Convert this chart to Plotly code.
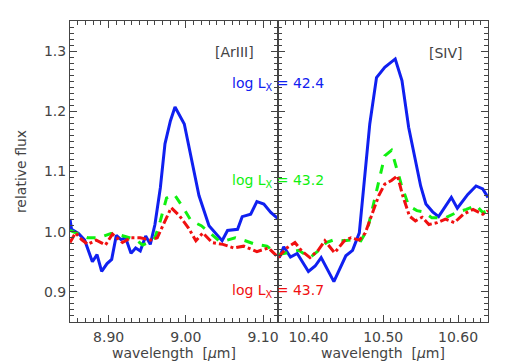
import plotly.graph_objects as go

# ---- data: [ArIII] panel ----
ar_blue_x = [8.850, 8.852, 8.861, 8.869, 8.879, 8.885, 8.891, 8.898, 8.904, 8.910, 8.916, 8.922, 8.929, 8.935, 8.941, 8.948, 8.954, 8.960, 8.967, 8.973, 8.980, 8.986, 8.998, 9.007, 9.017, 9.030, 9.039, 9.047, 9.054, 9.067, 9.073, 9.084, 9.092, 9.101, 9.110, 9.120]
ar_blue_y = [1.021, 1.004, 0.997, 0.986, 0.950, 0.962, 0.934, 0.947, 0.954, 0.994, 0.987, 0.990, 0.964, 0.973, 0.968, 0.993, 0.979, 1.012, 1.073, 1.146, 1.184, 1.207, 1.179, 1.123, 1.060, 1.010, 0.996, 0.985, 1.002, 1.004, 1.025, 1.029, 1.050, 1.046, 1.032, 1.021]

ar_green_x = [8.850, 8.861, 8.873, 8.888, 8.903, 8.916, 8.935, 8.944, 8.954, 8.960, 8.967, 8.975, 8.985, 8.995, 9.007, 9.020, 9.033, 9.043, 9.051, 9.064, 9.077, 9.090, 9.105, 9.120]
ar_green_y = [1.002, 0.996, 0.990, 0.990, 0.997, 0.994, 0.987, 0.978, 0.983, 0.990, 1.018, 1.056, 1.062, 1.043, 1.018, 1.010, 0.996, 0.985, 0.985, 0.990, 0.985, 0.979, 0.976, 0.962]

ar_red_x = [8.850, 8.857, 8.865, 8.873, 8.884, 8.896, 8.905, 8.918, 8.929, 8.941, 8.954, 8.963, 8.971, 8.981, 8.992, 9.003, 9.013, 9.022, 9.034, 9.048, 9.062, 9.075, 9.092, 9.107, 9.120]
ar_red_y = [0.982, 0.998, 0.987, 0.979, 0.986, 0.978, 0.996, 0.982, 0.990, 0.990, 0.986, 0.990, 1.012, 1.040, 1.026, 1.007, 0.985, 0.998, 0.982, 0.979, 0.973, 0.976, 0.967, 0.973, 0.957]

# ---- data: [SIV] panel ----
s_blue_x = [10.361, 10.367, 10.376, 10.385, 10.400, 10.409, 10.417, 10.434, 10.450, 10.459, 10.468, 10.474, 10.482, 10.491, 10.502, 10.516, 10.525, 10.534, 10.542, 10.550, 10.557, 10.566, 10.574, 10.582, 10.591, 10.599, 10.613, 10.624, 10.633, 10.640]
s_blue_y = [0.957, 0.975, 0.958, 0.964, 0.934, 0.943, 0.957, 0.917, 0.960, 0.969, 0.998, 1.073, 1.179, 1.256, 1.273, 1.287, 1.251, 1.173, 1.123, 1.076, 1.046, 1.033, 1.025, 1.040, 1.057, 1.039, 1.062, 1.076, 1.071, 1.057]

s_green_x = [10.360, 10.374, 10.387, 10.402, 10.413, 10.424, 10.435, 10.448, 10.461, 10.470, 10.479, 10.487, 10.495, 10.502, 10.511, 10.517, 10.524, 10.534, 10.545, 10.554, 10.565, 10.583, 10.598, 10.611, 10.624, 10.633, 10.640]
s_green_y = [0.962, 0.965, 0.969, 0.957, 0.968, 0.982, 0.987, 0.985, 0.987, 0.985, 1.004, 1.046, 1.090, 1.126, 1.135, 1.110, 1.079, 1.043, 1.035, 1.033, 1.023, 1.023, 1.032, 1.037, 1.044, 1.032, 1.035]

s_red_x = [10.360, 10.363, 10.371, 10.382, 10.391, 10.402, 10.413, 10.422, 10.435, 10.448, 10.457, 10.468, 10.476, 10.485, 10.494, 10.502, 10.511, 10.519, 10.526, 10.535, 10.543, 10.552, 10.561, 10.572, 10.583, 10.595, 10.607, 10.620, 10.633, 10.640]
s_red_y = [0.957, 0.962, 0.973, 0.982, 0.968, 0.957, 0.969, 0.985, 0.965, 0.985, 0.990, 0.986, 0.998, 1.029, 1.060, 1.079, 1.085, 1.093, 1.060, 1.026, 1.018, 1.024, 1.012, 1.015, 1.021, 1.015, 1.029, 1.037, 1.029, 1.035]

lum_labels = ["42.4", "43.2", "43.7"]
lum_label_y = [1.246, 1.085, 0.902]
line_labels = ["[ArIII]", "[SIV]"]

BLUE = "#1020f0"
GREEN = "#10f010"
RED = "#f01010"
colors = [BLUE, GREEN, RED]
AX = "#444444"
FONT = "DejaVu Sans"
FS = 14

fig = go.Figure()
for xs, ys, c, d, ax in [
    (ar_blue_x, ar_blue_y, BLUE, "solid", "x"),
    (ar_green_x, ar_green_y, GREEN, "dash", "x"),
    (ar_red_x, ar_red_y, RED, "dashdot", "x"),
    (s_blue_x, s_blue_y, BLUE, "solid", "x2"),
    (s_green_x, s_green_y, GREEN, "dash", "x2"),
    (s_red_x, s_red_y, RED, "dashdot", "x2"),
]:
    fig.add_trace(go.Scatter(x=xs, y=ys, mode="lines", xaxis=ax,
                             yaxis="y" if ax == "x" else "y2",
                             line=dict(color=c, width=3, dash=d),
                             showlegend=False))

common_axis = dict(showline=True, linecolor=AX, linewidth=1, mirror="ticks",
                   ticks="inside", ticklen=7, tickwidth=1, tickcolor=AX,
                   showgrid=False, zeroline=False,
                   tickfont=dict(family=FONT, size=FS, color=AX))
minor = dict(dtick=0.01, ticklen=4, tickcolor=AX, ticks="inside")

# page body adds an 8px offset, so the figure is 8px smaller than the window
fig.update_layout(
    width=499, height=354,
    margin=dict(l=55, r=19, t=12, b=40),
    paper_bgcolor="white", plot_bgcolor="white",
    font=dict(family=FONT, color=AX),
    xaxis=dict(domain=[0, 0.4988], range=[8.85, 9.12], tick0=8.9, dtick=0.1,
               tickformat=".2f", minor=minor, ticklabelstandoff=2,
               **common_axis),
    xaxis2=dict(domain=[0.4988, 1], range=[10.36, 10.64], tick0=10.4, dtick=0.1,
                tickformat=".2f", anchor="y2", minor=minor, ticklabelstandoff=2,
                **common_axis),
    yaxis=dict(range=[0.85, 1.35], dtick=0.1, tick0=0.9, tickformat=".1f",
               minor=minor,
               title=dict(text="relative flux", standoff=14,
                          font=dict(family=FONT, size=FS, color=AX)),
               **common_axis),
    yaxis2=dict(range=[0.85, 1.35], dtick=0.1, tick0=0.9, anchor="x2",
                showticklabels=False, matches="y", minor=minor,
                **common_axis),
)

# x-axis titles (placed as annotations just under the tick labels)
for xc in [0.2494, 0.7494]:
    fig.add_annotation(x=xc, y=0, xref="paper", yref="paper",
                       text="wavelength  [<i>μ</i>m]", showarrow=False,
                       xanchor="center", yanchor="middle", yshift=-31,
                       font=dict(family=FONT, size=FS, color=AX))

fig.add_annotation(x=9.063, y=1.298, xref="x", yref="y", text=line_labels[0],
                   showarrow=False, font=dict(family=FONT, size=FS, color=AX))
fig.add_annotation(x=10.584, y=1.297, xref="x2", yref="y2", text=line_labels[1],
                   showarrow=False, font=dict(family=FONT, size=FS, color=AX))
for lab, yy, c in zip(lum_labels, lum_label_y, colors):
    fig.add_annotation(x=0.4988, y=yy, xref="paper", yref="y",
                       text="log L<sub>X</sub> = " + lab, showarrow=False,
                       xanchor="center",
                       font=dict(family=FONT, size=FS, color=c))

fig.write_html("out.html")
